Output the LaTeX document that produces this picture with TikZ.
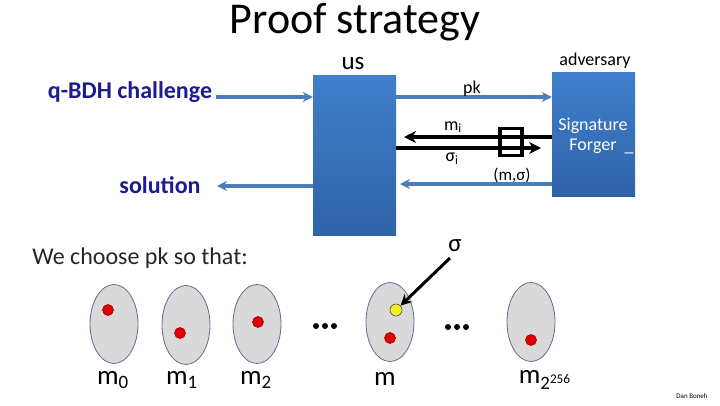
\documentclass[tikz,border=0pt]{standalone}
\usepackage{fontspec}
\setmainfont{Carlito}
\usetikzlibrary{shapes.geometric,arrows.meta}
\definecolor{navytext}{HTML}{1C1C8E}
\definecolor{steel}{HTML}{4A7EBB}
\definecolor{boxtop}{HTML}{3F7FCC}
\definecolor{boxbot}{HTML}{2F63A8}
\definecolor{ellfill}{HTML}{D9D9D9}
\definecolor{elledge}{HTML}{5A6E8C}
\definecolor{reddot}{HTML}{E00000}
\definecolor{yeldot}{HTML}{F0F020}
\tikzset{
  bluebox/.style={draw=none, rectangle, top color=boxtop, bottom color=boxbot, inner sep=0pt},
  bluearrow/.style={draw=steel, line width=3.4pt, -{Stealth[length=10pt,width=10pt]}},
  blackarrow/.style={draw=black, line width=4pt, -{Stealth[length=12pt,width=12pt]}},
  setell/.style={ellipse, draw=elledge, line width=0.8pt, fill=ellfill, minimum width=48pt, minimum height=79pt, inner sep=0pt},
  rdot/.style={circle, fill=reddot, draw=reddot!70!black, line width=0.6pt, minimum size=11pt, inner sep=0pt},
  ydot/.style={circle, fill=yeldot, draw=black!70, line width=0.6pt, minimum size=12pt, inner sep=0pt},
  bdot/.style={circle, fill=black, minimum size=6pt, inner sep=0pt},
  sublabel/.style={font=\fontsize{27}{29}\selectfont, anchor=center},
  smalltxt/.style={font=\fontsize{18}{20}\selectfont},
  navylabel/.style={font=\fontsize{24}{26}\selectfont\bfseries, text=navytext}
}
\begin{document}
\begin{tikzpicture}[x=1pt,y=-1pt]
\useasboundingbox (0,0) rectangle (720,405);
% title
\node (title) at (355,22) {\fontsize{44}{48}\selectfont Proof strategy};
% boxes
\node[bluebox, minimum width=83pt, minimum height=160pt] (us) at (354.5,155.5) {};
\node[bluebox, minimum width=83pt, minimum height=124pt] (adv) at (593.5,134.5) {};
\node[font=\fontsize{25}{27}\selectfont] (uslbl) at (353,64) {us};
\node[smalltxt] (advlbl) at (595,61) {adversary};
\node[smalltxt, text=white, align=center] (sigf) at (593,136) {Signature\\Forger};
\node[smalltxt, text=white] (underscore) at (629,153) {\_};
% left texts
\node[navylabel] (qbdh) at (130,92) {q-BDH challenge};
\node[navylabel] (sol) at (160,185) {solution};
% arrows
\draw[bluearrow] (qbdh.east |- 0,97) -- (us.west |- 0,97);
\draw[bluearrow] (us.east |- 0,97) -- (adv.west |- 0,97);
\node[smalltxt] (pklbl) at (472,89) {pk};
\coordinate (mitip) at (404,137);
\coordinate (sigtip) at (541,148);
\draw[blackarrow] (adv.west |- 0,137) -- (mitip);
\draw[blackarrow] (us.east |- 0,148) -- (sigtip);
\node[draw=black, line width=3.6pt, minimum width=22pt, minimum height=27pt, inner sep=0pt] (sq) at (511,142) {};
\node[smalltxt] (milbl) at (453,127) {m\textsubscript{i}};
\node[smalltxt] (sigilbl) at (452,159) {σ\textsubscript{i}};
\coordinate (mstip) at (400,184);
\draw[bluearrow] (adv.west |- 0,184) -- (mstip);
\node[font=\fontsize{17}{19}\selectfont] (mslbl) at (512,175) {(m,σ)};
\coordinate (soltip) at (217,186);
\draw[bluearrow] (us.west |- 0,186) -- (soltip);
% lower part
\node[font=\fontsize{24}{26}\selectfont, text=black!85] (choose) at (140,258) {We choose pk so that:};
\node[font=\fontsize{25}{27}\selectfont] (sigma) at (455,246) {σ};
\node[setell] (e0) at (114,324) {};
\node[setell] (e1) at (186,325) {};
\node[setell] (e2) at (257,324) {};
\node[setell] (em) at (390,322) {};
\node[setell] (el) at (531,322) {};
\node[rdot] (r0) at (108,310) {};
\node[rdot] (r1) at (180,333) {};
\node[rdot] (r2) at (258,322) {};
\node[rdot] (rm) at (390,338) {};
\node[ydot] (ym) at (396,310) {};
\node[rdot] (rl) at (531,340) {};
\node[bdot] (d1) at (316,326) {};
\node[bdot] (d2) at (325,326) {};
\node[bdot] (d3) at (334,326) {};
\node[bdot] (d4) at (448,327) {};
\node[bdot] (d5) at (457,327) {};
\node[bdot] (d6) at (466,327) {};
\draw[black, line width=3pt, -{Stealth[length=11pt,width=11pt]}] (450,258) -- (ym);
\node[sublabel] (l0) at (113,380) {m\textsubscript{0}};
\node[sublabel] (l1) at (182,380) {m\textsubscript{1}};
\node[sublabel] (l2) at (256,380) {m\textsubscript{2}};
\node[sublabel] (lm) at (385,379) {m};
\node[sublabel] (ll) at (545,380) {m\textsubscript{2\textsuperscript{256}}};
\node[font=\fontsize{7}{8}\selectfont] (dan) at (692,396) {Dan Boneh};
\end{tikzpicture}
\end{document}
